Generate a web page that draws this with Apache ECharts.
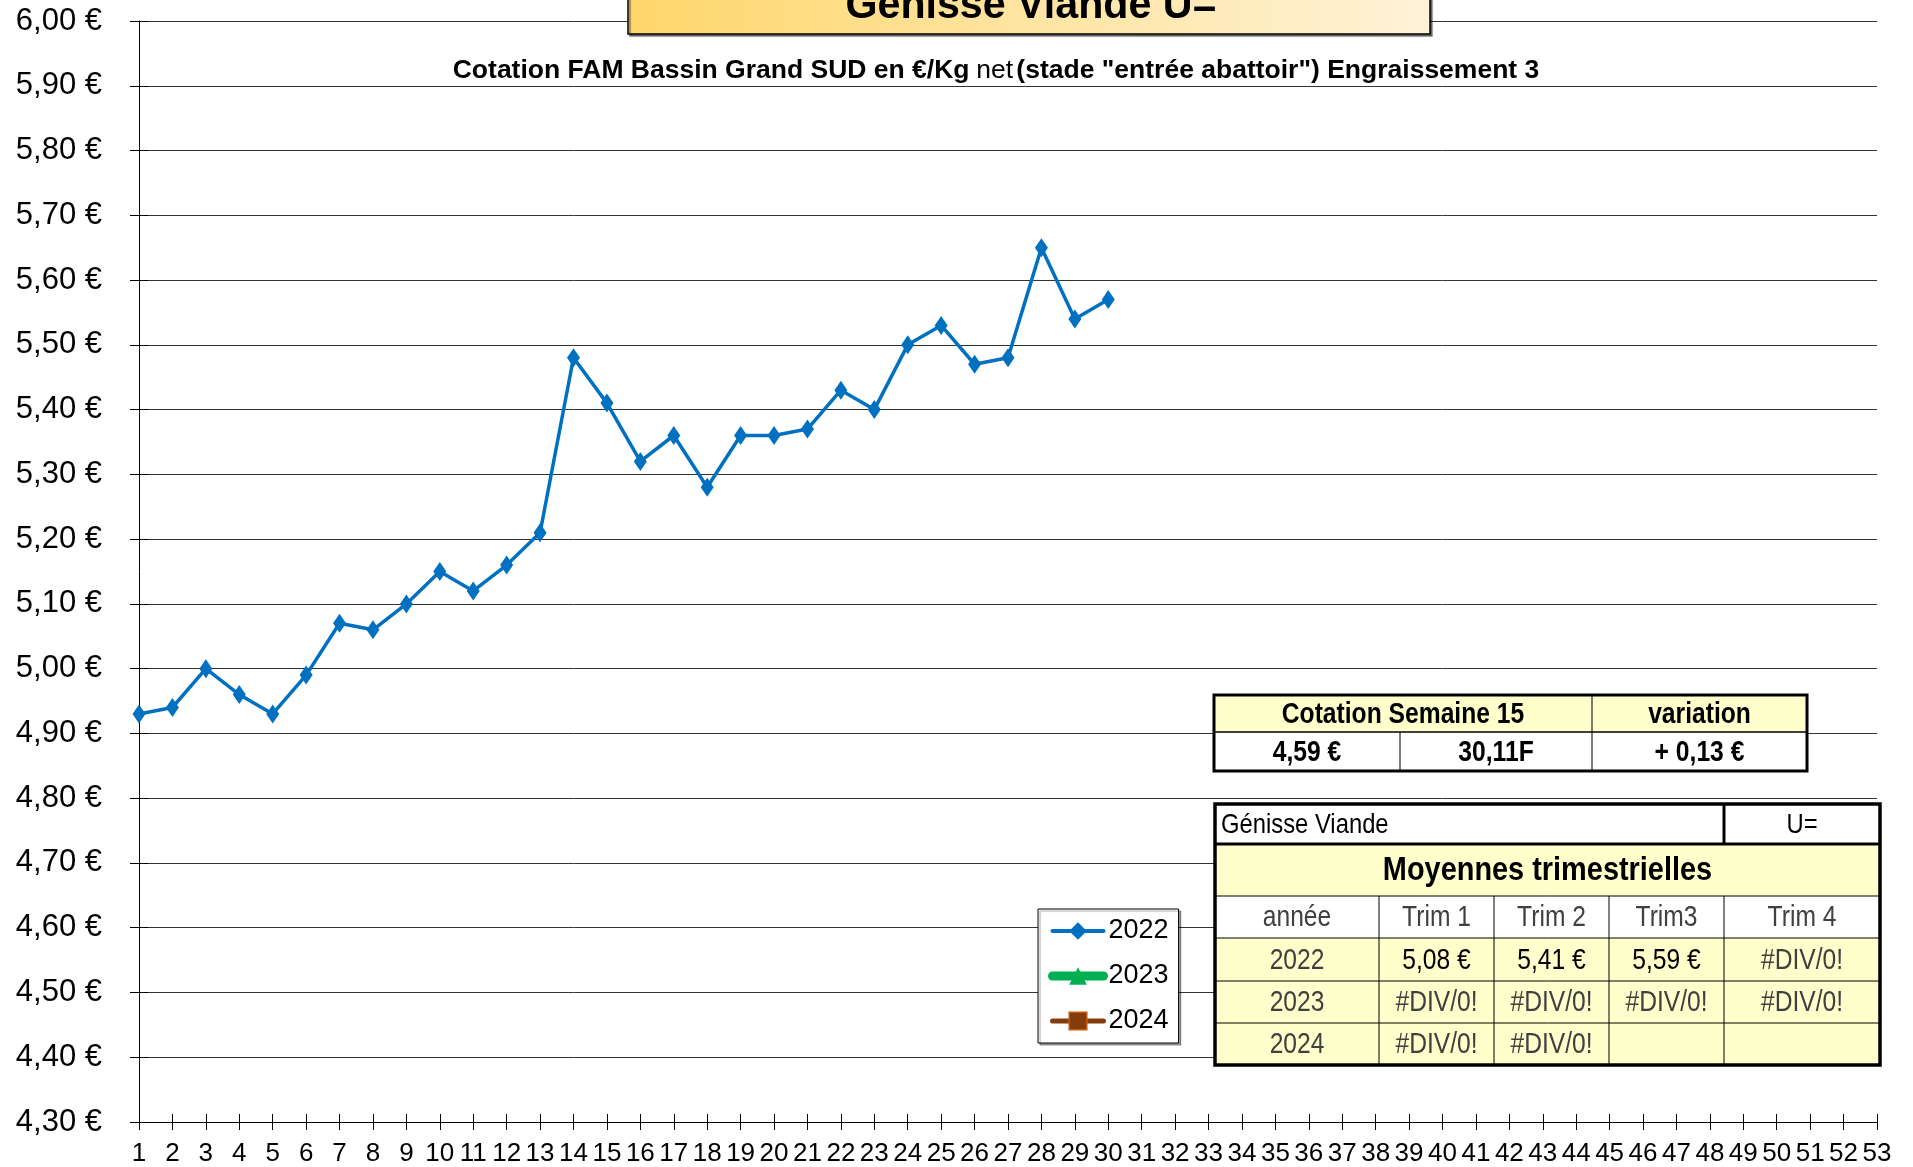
<!DOCTYPE html>
<html><head><meta charset="utf-8">
<script src="https://cdn.jsdelivr.net/npm/echarts@6/dist/echarts.min.js"></script>
<style>html,body{margin:0;padding:0;background:#fff;overflow:hidden}#c{width:1913px;height:1167px;}</style>
</head><body><div id="c"></div>
<script>
const weeks = ['1','2','3','4','5','6','7','8','9','10','11','12','13','14','15','16','17','18','19','20','21','22','23','24','25','26','27','28','29','30','31','32','33','34','35','36','37','38','39','40','41','42','43','44','45','46','47','48','49','50','51','52','53'];
const values2022 = [4.93, 4.94, 5.00, 4.96, 4.93, 4.99, 5.07, 5.06, 5.10, 5.15, 5.12, 5.16, 5.21, 5.48, 5.41, 5.32, 5.36, 5.28, 5.36, 5.36, 5.37, 5.43, 5.40, 5.50, 5.53, 5.47, 5.48, 5.65, 5.54, 5.57];
const values2023 = [];
const values2024 = [];
const seriesNames = ['2022', '2023', '2024'];
const yMin = 4.3, yMax = 6.0, yStep = 0.1;

const titleText = 'Génisse Viande U=';
const subtitleParts = ['Cotation FAM Bassin Grand SUD en €/Kg', 'net', '(stade "entrée abattoir") Engraissement 3'];
const cotationHeader = ['Cotation Semaine 15', 'variation'];
const cotationRow = ['4,59 €', '30,11F', '+ 0,13 €'];
const avgLabel = ['Génisse Viande', 'U='];
const avgTitle = 'Moyennes trimestrielles';
const avgHeader = ['année', 'Trim 1', 'Trim 2', 'Trim3', 'Trim 4'];
const avgYears = ['2022', '2023', '2024'];
const avgValues = [
  ['5,08 €', '5,41 €', '5,59 €', '#DIV/0!'],
  ['#DIV/0!', '#DIV/0!', '#DIV/0!', '#DIV/0!'],
  ['#DIV/0!', '#DIV/0!', '', '']
];

const SANS = "'Liberation Sans', Arial, sans-serif";
const YELLOW = '#FFFFCC';
const GRAY = '#404040';

const g = [];
function rect(x, y, w, h, fill, stroke, lw, z, extra) {
  g.push({type: 'rect', shape: {x, y, width: w, height: h}, style: Object.assign({fill: fill, stroke: stroke || null, lineWidth: lw || 0}, extra || {}), z: z || 10});
}
function line(x1, y1, x2, y2, lw) {
  g.push({type: 'line', shape: {x1, y1, x2, y2}, style: {stroke: '#000', lineWidth: lw}, z: 15});
}
function txt(x, y, text, o) {
  o = o || {};
  g.push({type: 'text', x, y, z: 20, scaleX: o.sx || 0.88, scaleY: 1, style: {
    text, fill: o.fill || '#000', fontSize: o.size || 28, fontFamily: SANS,
    fontWeight: o.weight || 'normal', align: o.align || 'center', verticalAlign: 'middle'
  }});
}

// Title box
rect(628, -14, 802, 48, {type: 'linear', x: 0, y: 0, x2: 1, y2: 0.3, colorStops: [{offset: 0, color: '#FFD66B'}, {offset: 1, color: '#FFF3D8'}]}, '#000', 1.5, 12,
  {shadowColor: 'rgba(0,0,0,0.45)', shadowOffsetX: 2, shadowOffsetY: 2, shadowBlur: 1});
txt(1031, 6, titleText, {size: 42, weight: 'bold', sx: 0.98});

// Subtitle
g.push({type: 'text', x: 996, y: 71, z: 20, style: {
  text: '{b|' + subtitleParts[0] + '}  {n|' + subtitleParts[1] + '} {b|' + subtitleParts[2] + '}',
  align: 'center', verticalAlign: 'middle', fill: '#000',
  rich: {b: {fontSize: 26.5, fontWeight: 'bold', fontFamily: SANS, fill: '#000'}, n: {fontSize: 26.5, fontFamily: SANS, fill: '#000'}}
}});

// Table 1 (cotation)
(function () {
  const x0 = 1214, x1 = 1400, x2 = 1592, x3 = 1807, y0 = 695, y1 = 732, y2 = 771;
  rect(x0, y0, x3 - x0, y1 - y0, YELLOW);
  rect(x0, y1, x3 - x0, y2 - y1, '#fff');
  line(x0, y1, x3, y1, 1.5);
  line(x2, y0, x2, y2, 1);
  line(x1, y1, x1, y2, 1);
  rect(x0, y0, x3 - x0, y2 - y0, null, '#000', 3, 16);
  const yc0 = (y0 + y1) / 2 + 1, yc1 = (y1 + y2) / 2 + 1;
  const o = {weight: 'bold', size: 29, sx: 0.85};
  txt((x0 + x2) / 2, yc0, cotationHeader[0], o);
  txt((x2 + x3) / 2, yc0, cotationHeader[1], o);
  txt((x0 + x1) / 2, yc1, cotationRow[0], o);
  txt((x1 + x2) / 2, yc1, cotationRow[1], o);
  txt((x2 + x3) / 2, yc1, cotationRow[2], o);
})();

// Table 2 (moyennes)
(function () {
  const cx = [1215, 1379, 1494, 1609, 1724, 1880];
  const ry = [804, 844, 896, 938, 981, 1023, 1065];
  const W = cx[5] - cx[0];
  const fills = ['#fff', YELLOW, '#fff', YELLOW, YELLOW, YELLOW];
  for (let i = 0; i < 6; i++) rect(cx[0], ry[i], W, ry[i + 1] - ry[i], fills[i]);
  line(cx[0], ry[1], cx[5], ry[1], 3);
  for (let i = 2; i < 6; i++) line(cx[0], ry[i], cx[5], ry[i], 1);
  line(cx[4], ry[0], cx[4], ry[1], 3);
  for (let j = 1; j < 5; j++) line(cx[j], ry[2], cx[j], ry[6], 1);
  rect(cx[0], ry[0], W, ry[6] - ry[0], null, '#000', 3.5, 16);
  const mid = (a, b) => (a + b) / 2 + 1;
  txt(cx[0] + 6, mid(ry[0], ry[1]), avgLabel[0], {align: 'left', size: 28, sx: 0.85});
  txt((cx[4] + cx[5]) / 2, mid(ry[0], ry[1]), avgLabel[1], {size: 28, sx: 0.85});
  txt((cx[0] + cx[5]) / 2, mid(ry[1], ry[2]), avgTitle, {weight: 'bold', size: 34, sx: 0.85});
  for (let j = 0; j < 5; j++) txt((cx[j] + cx[j + 1]) / 2, mid(ry[2], ry[3]), avgHeader[j], {fill: GRAY, size: 30, sx: 0.82});
  for (let r = 0; r < 3; r++) {
    const yc = mid(ry[3 + r], ry[4 + r]);
    txt((cx[0] + cx[1]) / 2, yc, avgYears[r], {fill: GRAY, size: 30, sx: 0.82});
    for (let j = 0; j < 4; j++) {
      const v = avgValues[r][j];
      if (!v) continue;
      txt((cx[j + 1] + cx[j + 2]) / 2, yc, v, {fill: v.charAt(0) === '#' ? GRAY : '#000', size: 30, sx: 0.82});
    }
  }
})();

const chart = echarts.init(document.getElementById('c'), null, {renderer: 'canvas'});
const fmt = v => v.toFixed(2).replace('.', ',') + ' €';
chart.setOption({
  animation: false,
  backgroundColor: '#fff',
  grid: {left: 139, right: 36, top: 21, bottom: 45, containLabel: false, outerBoundsMode: 'none'},
  legend: {
    orient: 'vertical', left: 1038, top: 909, padding: [7, 10, 7, 10], itemGap: 15,
    itemWidth: 51, itemHeight: 22, backgroundColor: '#fff', borderColor: '#000', borderWidth: 1,
    shadowColor: 'rgba(0,0,0,0.35)', shadowOffsetX: 2, shadowOffsetY: 2, shadowBlur: 1,
    textStyle: {fontSize: 27, fontFamily: SANS, color: '#000', lineHeight: 30},
    data: [
      {name: seriesNames[0], lineStyle: {width: 4, cap: 'round'}},
      {name: seriesNames[1], lineStyle: {width: 9, cap: 'round'}},
      {name: seriesNames[2], lineStyle: {width: 5, cap: 'round'}, itemStyle: {borderColor: '#C55A11', borderWidth: 1.5}}
    ]
  },
  xAxis: [{
    type: 'category', data: weeks, boundaryGap: false,
    axisLine: {lineStyle: {color: '#000', width: 1}},
    axisTick: {show: true, interval: 0, length: 8, lineStyle: {color: '#000'}},
    axisLabel: {interval: 0, margin: 19, fontSize: 26, fontFamily: SANS, color: '#000'},
    splitLine: {show: false}
  }, {
    type: 'category', data: weeks, boundaryGap: false, position: 'bottom',
    axisLine: {show: false},
    axisTick: {show: true, inside: true, interval: 0, length: 8, lineStyle: {color: '#000'}},
    axisLabel: {show: false}, splitLine: {show: false}
  }],
  yAxis: [{
    type: 'value', min: yMin, max: yMax, interval: yStep,
    axisLine: {show: true, lineStyle: {color: '#000', width: 1}},
    axisTick: {show: true, length: 9, lineStyle: {color: '#000'}},
    axisLabel: {formatter: fmt, margin: 37, fontSize: 31, fontFamily: SANS, color: '#000'},
    splitLine: {show: true, lineStyle: {color: '#333', width: 1}}
  }, {
    type: 'value', min: yMin, max: yMax, interval: yStep, position: 'left',
    axisLine: {show: false},
    axisTick: {show: true, inside: true, length: 9, lineStyle: {color: '#000'}},
    axisLabel: {show: false}, splitLine: {show: false}
  }],
  series: [{
    name: seriesNames[0], type: 'line', data: values2022, symbol: 'diamond', symbolSize: [13, 19],
    lineStyle: {color: '#0070C0', width: 3.5}, itemStyle: {color: '#0070C0'}, z: 5
  }, {
    name: seriesNames[1], type: 'line', data: values2023, symbol: 'triangle', symbolSize: 16,
    lineStyle: {color: '#00B050', width: 9, cap: 'round'}, itemStyle: {color: '#00B050'}
  }, {
    name: seriesNames[2], type: 'line', data: values2024, symbol: 'rect', symbolSize: 16,
    lineStyle: {color: '#843C0C', width: 5, cap: 'round'}, itemStyle: {color: '#843C0C', borderColor: '#C55A11', borderWidth: 1.5}
  }],
  graphic: g
});
</script></body></html>
